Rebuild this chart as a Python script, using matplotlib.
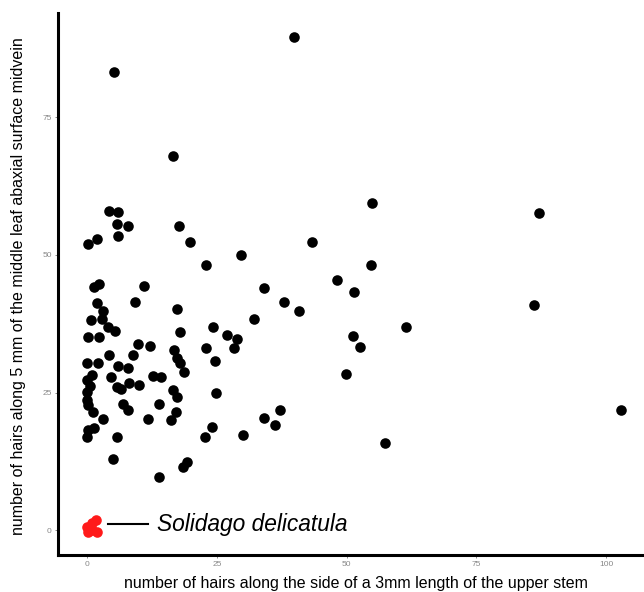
import matplotlib.pyplot as plt

plt.rcParams['font.family'] = ['Liberation Sans', 'DejaVu Sans']

# hairs along 3mm of upper stem (x) vs hairs along 5mm of leaf midvein (y)
stem_hairs = [
    39.9, 5.2, 16.6, 4.2, 6.0, 5.8, 7.9, 6.0, 1.9, 0.2,
    17.7, 19.8, 22.9, 29.7, 43.4, 54.9, 87.1, 1.3, 2.3, 11.0,
    34.1, 48.2, 54.7, 51.4, 1.9, 9.2, 38.0, 3.1, 17.3, 40.8,
    86.1, 0.8, 2.9, 4.0, 5.4, 17.9, 0.2, 2.3, 24.3, 27.0,
    28.9, 32.2, 61.5, 51.3, 52.6, 9.8, 12.1, 16.8, 22.9, 28.3,
    24.7, 4.2, 8.9, 17.3, 17.9, 18.7, 0.0, 2.1, 6.0, 7.9,
    1.0, 0.0, 4.6, 12.7, 14.3, 0.6, 5.8, 6.6, 8.1, 10.0,
    16.6, 17.3, 24.9, 0.0, 0.0, 13.9, 6.9, 7.9, 1.2, 17.1,
    37.2, 34.1, 3.1, 11.8, 16.2, 36.2, 24.1, 0.2, 1.3, 0.0,
    5.8, 22.7, 30.1, 5.0, 19.3, 18.5, 13.9, 49.9, 102.9, 57.4,
    0.2,
]
midvein_hairs = [
    89.5, 83.2, 67.9, 57.9, 57.7, 55.6, 55.2, 53.4, 52.8, 51.9,
    55.2, 52.3, 48.1, 49.9, 52.3, 59.4, 57.6, 44.1, 44.7, 44.3,
    43.9, 45.4, 48.1, 43.2, 41.2, 41.4, 41.4, 39.8, 40.1, 39.8,
    40.9, 38.1, 38.3, 36.9, 36.1, 36.0, 35.0, 35.0, 36.9, 35.4,
    34.7, 38.3, 36.9, 35.2, 33.2, 33.8, 33.4, 32.7, 33.0, 33.0,
    30.7, 31.8, 31.8, 31.2, 30.3, 28.7, 30.3, 30.3, 29.8, 29.4,
    28.1, 27.2, 27.8, 28.0, 27.8, 26.1, 26.0, 25.6, 26.7, 26.3,
    25.4, 24.2, 24.9, 25.1, 23.6, 22.9, 22.9, 21.8, 21.4, 21.4,
    21.8, 20.3, 20.2, 20.2, 20.0, 19.1, 18.7, 18.2, 18.5, 16.9,
    16.9, 16.9, 17.3, 12.9, 12.3, 11.4, 9.6, 28.3, 21.8, 15.8,
    22.7,
]

# Solidago delicatula specimens
deli_stem = [0.0, 0.2, 1.0, 1.9, 1.0, 1.7]
deli_midvein = [0.5, -0.4, 1.3, -0.4, 0.0, 1.8]

fig = plt.figure(figsize=(6.44, 5.92), dpi=100)
ax = fig.add_axes([0.090, 0.0625, 0.91, 0.9155])

ax.scatter(stem_hairs, midvein_hairs, s=58, color='black', linewidths=0, zorder=3)
ax.scatter(deli_stem, deli_midvein, s=58, color='#ff1a1a', linewidths=0, zorder=3)

ax.plot([4.0, 11.8], [1.1, 1.1], color='black', lw=1.5)
ax.text(13.4, 1.1, 'Solidago delicatula', style='italic', fontsize=16.4,
        va='center', ha='left')

ax.set_xlim(-5.6, 107.3)
ax.set_ylim(-4.5, 93.9)
ax.set_xticks([0, 25, 50, 75, 100])
ax.set_yticks([0, 25, 50, 75])

for side in ['top', 'right']:
    ax.spines[side].set_visible(False)
for side in ['left', 'bottom']:
    ax.spines[side].set_linewidth(2.2)
    ax.spines[side].set_color('black')

ax.tick_params(length=2.5, width=0.6, color='#777777', labelsize=6,
               labelcolor='#888888', pad=2)

ax.set_xlabel('number of hairs along the side of a 3mm length of the upper stem',
              fontsize=11.5)
ax.set_ylabel('number of hairs along 5 mm of the middle leaf abaxial surface midvein',
              fontsize=11.5)
ax.xaxis.set_label_coords(0.509, -0.038)
ax.yaxis.set_label_coords(-0.054, 0.497)

fig.savefig('out.png', dpi=100)
